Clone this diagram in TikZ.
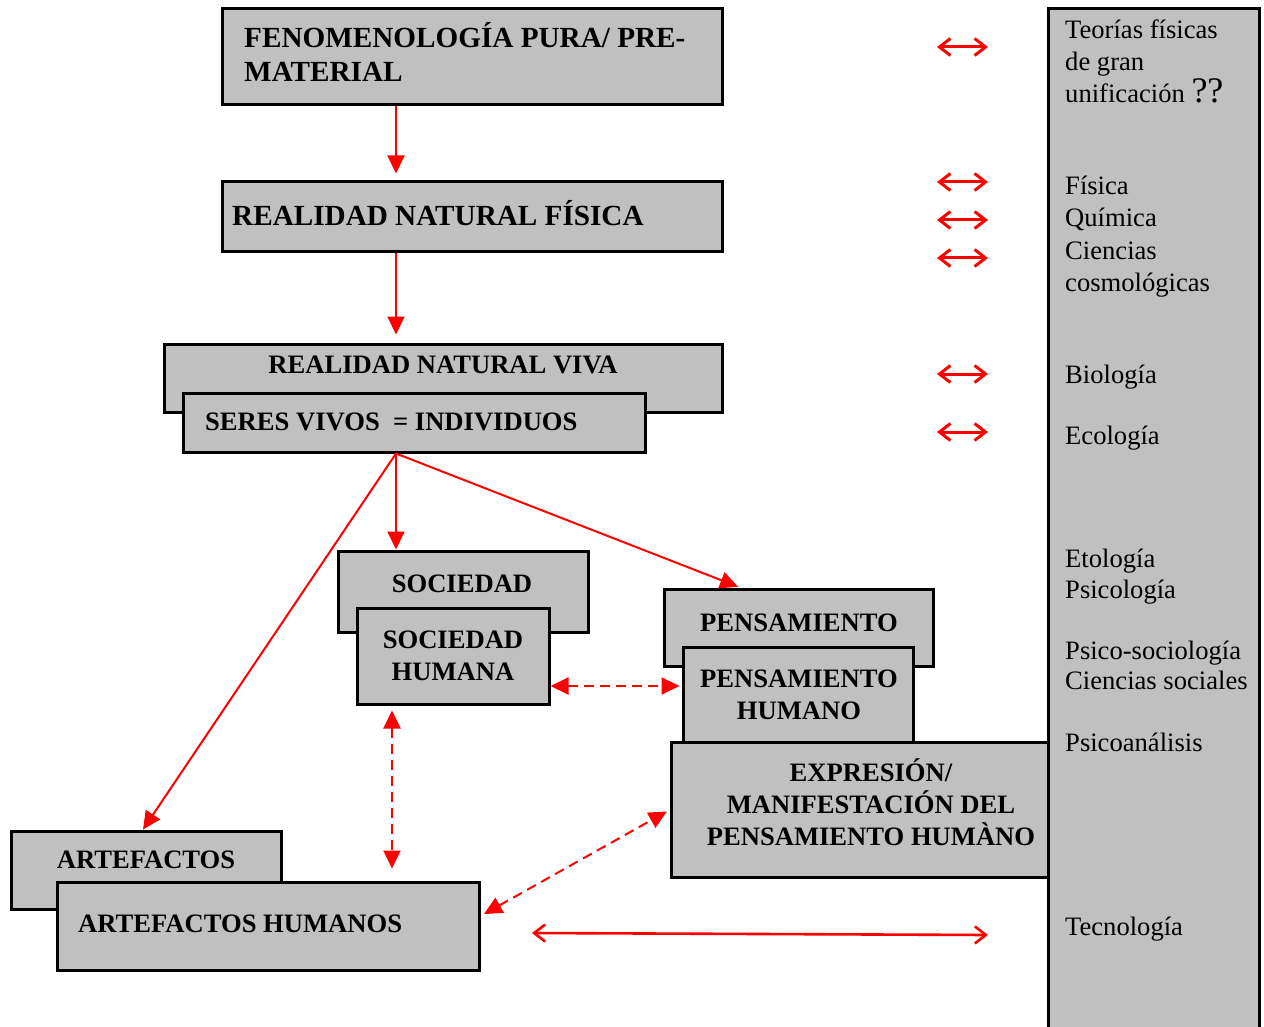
\documentclass[tikz,border=0pt]{standalone}
\usepackage{fontspec}
\setmainfont{Liberation Serif}
\usetikzlibrary{arrows.meta}
\definecolor{boxgray}{RGB}{192,192,192}
\tikzset{
  box/.style={draw, line width=3pt, fill=boxgray, inner sep=0pt},
  boxtext/.style={inner sep=0pt, font=\fontsize{26.6}{32}\selectfont\bfseries, align=center},
  titletext/.style={inner sep=0pt, font=\fontsize{29.2}{34}\selectfont\bfseries, align=left},
  scitext/.style={inner sep=0pt, font=\fontsize{26.6}{32}\selectfont, anchor=base west},
  flow/.style={red, line width=2pt, -{Triangle[length=18pt,width=17pt]}},
  link/.style={red, line width=2pt, dash pattern=on 10pt off 6pt,
    {Triangle[length=18pt,width=17pt]}-{Triangle[length=18pt,width=17pt]}},
  rel/.style={red, line width=3pt,
    {Straight Barb[length=11pt,width=17pt]}-{Straight Barb[length=11pt,width=17pt]}},
}
\begin{document}
\begin{tikzpicture}[x=1pt,y=-1pt]
    \useasboundingbox (0,0) rectangle (1264,1027);
    % columna de ciencias
    \node[box, minimum width=211pt, minimum height=1031pt] (ciencias) at (1153.5,524.5) {};
    \foreach \y/\txt [count=\i] in {39/Teorías físicas, 71/de gran,
        103/unificación {\fontsize{36}{36}\selectfont ??},
        195/Física, 227/Química, 259/Ciencias, 291/cosmológicas,
        383/Biología, 444/Ecología, 567/Etología, 598/Psicología,
        659/Psico-sociología, 689/Ciencias sociales, 751/Psicoanálisis,
        935/Tecnología}
        \node[scitext] (ciencia-\i) at (1065,\y) {\txt};

    % cajas
    \node[box, minimum width=500pt, minimum height=96pt] (feno) at (472,57) {};
    \node[titletext, anchor=west] (feno-t) at (244,52) {FENOMENOLOGÍA PURA/ PRE-\\MATERIAL};
    \node[box, minimum width=500pt, minimum height=70pt] (fisica) at (472,217) {};
    \node[titletext, anchor=base west] (fisica-t) at (232,226) {REALIDAD NATURAL FÍSICA};
    \node[box, minimum width=558pt, minimum height=68pt] (viva) at (443,378) {};
    \node[boxtext, anchor=base] (viva-t) at (443,373) {REALIDAD NATURAL VIVA};
    \node[box, minimum width=462pt, minimum height=59pt] (sv) at (414,422.5) {};
    \node[boxtext, anchor=base west] (sv-t) at (205,430) {SERES VIVOS ~= INDIVIDUOS};

    \node[box, minimum width=250pt, minimum height=81pt] (soc) at (463,591.5) {};
    \node[boxtext, anchor=base] (soc-t) at (462,592) {SOCIEDAD};
    \node[box, minimum width=192pt, minimum height=96pt] (sochum) at (453,656) {};
    \node[boxtext] (sochum-t) at (453,656) {SOCIEDAD\\HUMANA};

    \node[box, minimum width=269pt, minimum height=77pt] (pens) at (798.5,627.5) {};
    \node[boxtext, anchor=base] (pens-t) at (799,631) {PENSAMIENTO};
    \node[box, minimum width=230pt, minimum height=95pt] (penshum) at (798,694.5) {};
    \node[boxtext] (penshum-t) at (799,694.5) {PENSAMIENTO\\HUMANO};
    \node[box, minimum width=377pt, minimum height=135pt] (expr) at (859.5,809.5) {};
    \node[boxtext] (expr-t) at (871,802.5) {EXPRESIÓN/\\MANIFESTACIÓN DEL\\PENSAMIENTO HUMÀNO};

    \node[box, minimum width=270pt, minimum height=78pt] (arte) at (146,870) {};
    \node[boxtext, anchor=base] (arte-t) at (146,868) {ARTEFACTOS};
    \node[box, minimum width=422pt, minimum height=88pt] (artehum) at (268,926) {};
    \node[boxtext, anchor=base west] (artehum-t) at (78,932) {ARTEFACTOS HUMANOS};

    % flechas de derivacion
    \draw[flow, shorten >=7pt] (396,0 |- feno.south) -- (396,0 |- fisica.north);
    \draw[flow, shorten >=8pt] (396,0 |- fisica.south) -- (396,0 |- viva.north);
    \coordinate (split) at (396,0 |- sv.south);
    \draw[flow] (split) -- (396,0 |- soc.north);
    \draw[flow, shorten >=2pt] (split) -- (740,0 |- pens.north);
    \draw[flow] (split) -- (143,0 |- arte.north);

    % relaciones entre cajas
    \draw[link, shorten >=2pt] (sochum.east |- 0,686) -- (penshum.west |- 0,686);
    \draw[link, shorten <=5pt, shorten >=12pt] (392,0 |- sochum.south) -- (392,0 |- artehum.north);
    \draw[link, shorten <=4pt, shorten >=3pt] (artehum.east |- 0,916) -- (expr.west |- 0,810);

    % relaciones con las ciencias
    \foreach \y [count=\i] in {47,182,220,258,374,432} {
        \coordinate (rel-l\i) at (937,\y);
        \coordinate (rel-r\i) at (988,\y);
        \draw[rel] (rel-l\i) -- (rel-r\i);
    }
    \coordinate (tec-l) at (532,933);
    \coordinate (tec-r) at (988,935);
    \draw[rel, line width=2.6pt] (tec-l) -- (tec-r);
\end{tikzpicture}
\end{document}
